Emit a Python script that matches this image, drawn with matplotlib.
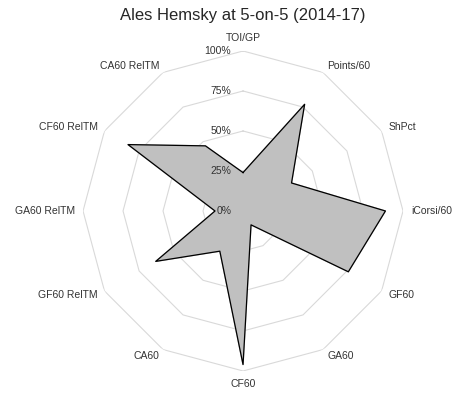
import numpy as np
import matplotlib
matplotlib.use('Agg')
import matplotlib.pyplot as plt

plt.rcParams['font.family'] = ['Liberation Sans', 'DejaVu Sans']

# категории по часовой стрелке, начиная сверху
categories = ['TOI/GP', 'Points/60', 'ShPct', 'iCorsi/60', 'GF60', 'GA60',
              'CF60', 'CA60', 'GF60 RelTM', 'GA60 RelTM', 'CF60 RelTM', 'CA60 RelTM']
values = [0.24, 0.77, 0.35, 0.89, 0.76, 0.10, 0.96, 0.29, 0.63, 0.175, 0.83, 0.47]
rings = [0.25, 0.50, 0.75, 1.00]
ring_labels = ['0%', '25%', '50%', '75%', '100%']

n = len(categories)
angles = np.arange(n) * 2 * np.pi / n
ang_closed = np.append(angles, angles[0])

fig = plt.figure(figsize=(4.68, 3.95), dpi=100)
ax = fig.add_axes([0.1774, 0.0608, 0.6838, 0.8101], projection='polar')
ax.set_theta_offset(np.pi / 2)
ax.set_theta_direction(-1)
ax.set_ylim(0, 1)
ax.grid(False)
ax.spines['polar'].set_visible(False)
ax.set_xticks([])
ax.set_yticks([])
ax.patch.set_alpha(0)

# сетка - многоугольники
for r in rings:
    ax.plot(ang_closed, [r] * (n + 1), color='#d9d9d9', lw=0.8, zorder=1)

# данные
vals_closed = values + values[:1]
ax.fill(ang_closed, vals_closed, color='#c0c0c0', zorder=2)
ax.plot(ang_closed, vals_closed, color='black', lw=0.9, zorder=3)

# подписи процентов
for r, lab in zip([0] + rings, ring_labels):
    ax.annotate(lab, xy=(0, r), xytext=(-8.5, 0), textcoords='offset points',
                ha='right', va='center', fontsize=7.5, color='#333333', zorder=4)

# подписи категорий
for a, lab in zip(angles, categories):
    deg = np.degrees(a) % 360
    if deg == 0:
        ha, va = 'center', 'bottom'
    elif deg == 180:
        ha, va = 'center', 'top'
    elif deg < 180:
        ha, va = 'left', 'center'
    else:
        ha, va = 'right', 'center'
    ax.text(a, 1.05, lab, ha=ha, va=va, fontsize=7.5, color='#333333')

fig.text(0.519, 0.96, 'Ales Hemsky at 5-on-5 (2014-17)', ha='center', va='center',
         fontsize=12, color='#262626')

fig.savefig('out.png', dpi=100)
